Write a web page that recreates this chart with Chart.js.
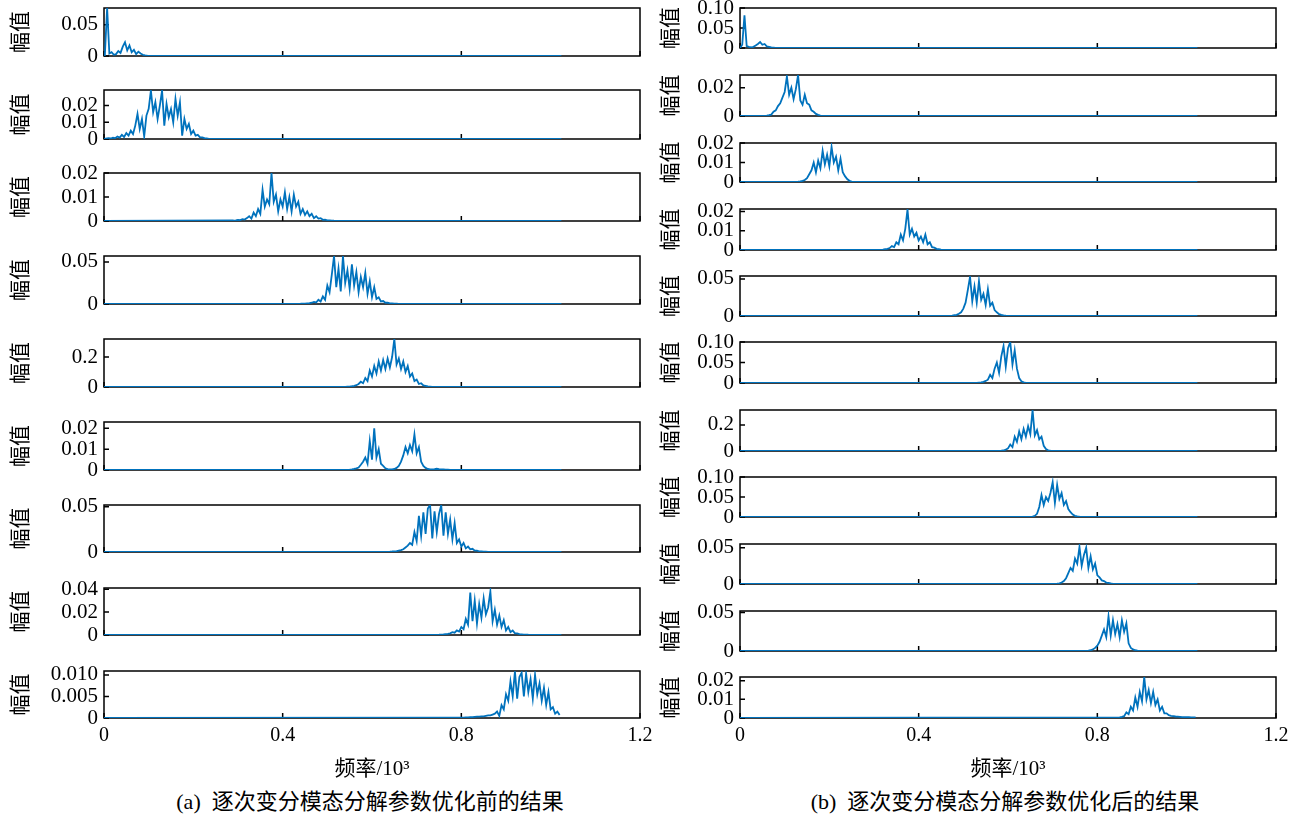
<!DOCTYPE html>
<html>
<head>
<meta charset="utf-8">
<script src="https://cdn.jsdelivr.net/npm/chart.js@4.4.1/dist/chart.umd.min.js"></script>
<style>
  body { margin: 0; width: 1302px; height: 816px; background: #fff; position: relative; overflow: hidden;
         font-family: "Liberation Serif", "Noto Sans CJK SC", serif; }
  canvas { position: absolute; }
  .cap { position: absolute; top: 789px; font-size: 22px; line-height: 26px; white-space: nowrap; transform: translateX(-50%); color: #000; }
</style>
</head>
<body>
<div class="cap" style="left:370px">(a)&nbsp;&nbsp;逐次变分模态分解参数优化前的结果</div>
<div class="cap" style="left:1005px">(b)&nbsp;&nbsp;逐次变分模态分解参数优化后的结果</div>
<script>
// frequency axis (x 10^3), spectra sampled every 0.005 from a start frequency
const STEP = 0.005;
const FREQ_END = 1.024;
const xTicks = [0, 0.4, 0.8, 1.2];
const xTickLabels = ["0", "0.4", "0.8", "1.2"];

// amplitudes in units of 1e-3
// (a) before optimisation
const aStarts = [0.002, 0.010, 0.290, 0.440, 0.540, 0.550, 0.640, 0.750, 0.800];
const a1 = [3,77,4,6,2,3,8,5,15,22,9,17,6,10,3,7,4,2,1,0.5,0.2];
const a2 = [0.5,0.3,0.8,0.5,1.5,0.8,2.5,1.2,3.5,2,5,3,8,15,6,12,1.5,14,18,29,16,22,12,20,29,8,21,13,18,10,24,14,22,2,12,6,9,3,5,2,2.5,1,1,0.5,0.3,0.1];
const a3 = [0.2,0.3,0.5,0.4,0.8,0.6,1.2,2,1,3.5,2,5,3,13,6,9,7,20,8,11,4,9,6,12,5,10,4,11,6,8,3,5,2.5,4,2,3,1.2,2,1,1.2,0.5,0.6,0.3,0.3,0.2,0.1,0.05];
const a4 = [0.3,0.5,0.4,0.8,1,1.5,2.5,1.8,5,3,9,5,22,14,35,57,20,42,15,57,25,40,18,47,22,38,14,32,20,37,12,27,8,20,6,8,3,3.5,1.5,1.5,0.8,0.6,0.4,0.3,0.2];
const a5 = [1,2,3,5,8,12,20,35,25,60,40,110,70,140,90,170,110,180,120,190,130,200,320,150,190,120,170,100,140,70,90,40,50,20,25,10,8,4,3,1.5,1];
const a6 = [0.2,0.3,0.5,0.8,1.2,2.5,4,6,3,14,5,20,6,10,3,2,0.8,0.4,0.3,0.3,0.5,1,2,4,7,11,8,12,9,17,8,11,4,2,1,0.5,0.3,0.3,0.4,0.6,0.4,0.3,0.3,0.2,0.2,0.1,0.1];
const a7 = [0.5,0.6,0.8,1,1.5,2,3,5,7,10,8,22,12,40,18,44,20,48,52,15,45,22,42,52,18,44,20,36,14,32,10,14,6,10,4,6,3,3.5,1.5,1.5,0.8,0.6,0.4,0.3,0.2];
const a8 = [0.3,0.4,0.5,0.8,1,1.5,2.5,2,4,3,7,5,14,9,37,12,30,10,27,15,32,18,24,38,12,22,9,17,7,13,4,7,2.5,4,1.5,1.5,0.8,0.6,0.4,0.3,0.2];
const a9 = [0.1,0.1,0.15,0.15,0.2,0.2,0.25,0.3,0.3,0.4,0.4,0.5,0.6,0.6,0.8,1,1.5,0.5,3,2,5.5,4,8.5,5,10.8,4.5,9.5,10.5,5,10.3,6,9,4.5,10,5.5,8,4,7,3,6,2,2.5,1,1.5,0.7];
const aMax = [0.077, 0.0293, 0.02, 0.057, 0.32, 0.023, 0.052, 0.041, 0.0109];
const aTicks = [[0,0.05],[0,0.01,0.02],[0,0.01,0.02],[0,0.05],[0,0.2],[0,0.01,0.02],[0,0.05],[0,0.02,0.04],[0,0.005,0.01]];
const aTickLabels = [["0","0.05"],["0","0.01","0.02"],["0","0.01","0.02"],["0","0.05"],["0","0.2"],["0","0.01","0.02"],["0","0.05"],["0","0.02","0.04"],["0","0.005","0.010"]];

// (b) after optimisation
const bStarts = [0.000, 0.060, 0.130, 0.320, 0.470, 0.530, 0.580, 0.650, 0.710, 0.780, 0.850];
const b1 = [0,8,82,5,3,1.5,3,6,10,15,8,10,4,3,1.5,1,0.5,0.2];
const b2 = [0.3,0.6,1,3,4,7,9,13,17,28,15,20,12,19,29,11,8,15,9,8,4,3,1.5,0.8,0.3,0.1];
const b3 = [0.2,0.3,0.6,1,2,4,6,10,5,11,7,16,9,14,8,18,10,13,6,12,5,3,1.5,0.6,0.2];
const b4 = [0.2,0.4,0.6,1,2,1.5,4,3,8,5,11,21,8,11,7,9,5,7,4,8,3,4,1.5,1.2,0.6,0.4,0.2,0.1,0.1];
const b5 = [0.3,0.5,1,1.5,3,5,10,18,35,53,20,40,18,47,22,30,15,36,14,18,8,5,2.5,1.5,0.8,0.4,0.2];
const b6 = [0.5,1,1.5,3,5,8,20,12,35,50,25,65,90,40,85,100,45,80,35,12,4,1.5,0.5,0.2];
const b7 = [1,2,4,10,20,50,30,110,70,150,90,170,110,190,130,315,120,160,90,110,40,15,5,2,1];
const b8 = [0.5,1,3,8,25,55,30,50,40,60,87,35,80,45,60,30,40,20,12,6,3,1.5,0.6,0.2];
const b9 = [0.5,1,2,4,8,15,22,18,35,28,51,25,40,50,22,38,20,28,12,9,5,4,2,1.5,0.8,0.3];
const b10 = [0.5,1,2,4,7,12,20,28,18,45,20,40,22,35,18,40,25,36,10,4,2,1,0.5,0.2];
const b11 = [0.3,0.6,1,3,2,6,4,11,6,14,9,22,10,15,8,14,7,10,4,6,2.5,2.5,1.5,1.2,1,0.8,0.7,0.6,0.5,0.5,0.4,0.4,0.3,0.3,0.3];
const bMax = [0.1, 0.029, 0.02, 0.0213, 0.054, 0.1, 0.315, 0.1, 0.055, 0.052, 0.022];
const bTicks = [[0,0.05,0.1],[0,0.02],[0,0.01,0.02],[0,0.01,0.02],[0,0.05],[0,0.05,0.1],[0,0.2],[0,0.05,0.1],[0,0.05],[0,0.05],[0,0.01,0.02]];
const bTickLabels = [["0","0.05","0.10"],["0","0.02"],["0","0.01","0.02"],["0","0.01","0.02"],["0","0.05"],["0","0.05","0.10"],["0","0.2"],["0","0.05","0.10"],["0","0.05"],["0","0.05"],["0","0.01","0.02"]];

// layout
const aBoxTop = [8, 90, 173, 256, 339, 422, 505, 588, 671];
const aBoxBottom = [56, 139, 221, 304, 387, 470, 552, 635, 718];
const bBoxTop = [8, 75, 143, 209, 276, 342, 410, 477, 544, 611, 677];
const bBoxBottom = [48, 116, 182, 250, 316, 383, 451, 517, 584, 651, 718];

const PAD = 12;
const LINE = '#0072BD';
const family = '"Liberation Serif", "Noto Sans CJK SC", serif';
const tickFont = { family, size: 21 };
const xFont = { family, size: 20 };
const titleFont = { family, size: 21 };

function toPoints(start, vals) {
  const pts = [{ x: 0, y: 0 }];
  vals.forEach((v, i) => pts.push({ x: +(start + i * STEP).toFixed(4), y: v / 1000 }));
  const last = start + (vals.length - 1) * STEP;
  if (last < FREQ_END - 0.005) pts.push({ x: FREQ_END, y: 0 });
  return pts;
}

const frame = {
  id: 'frame',
  beforeDatasetsDraw(chart) {
    const { ctx, chartArea: a, scales: { x, y } } = chart;
    ctx.save();
    ctx.strokeStyle = '#000';
    ctx.lineWidth = 1.5;
    ctx.strokeRect(a.left, a.top, a.right - a.left, a.bottom - a.top);
    ctx.beginPath();
    x.ticks.forEach(t => {
      const px = x.getPixelForValue(t.value);
      ctx.moveTo(px, a.bottom); ctx.lineTo(px, a.bottom - 5);
    });
    y.ticks.forEach(t => {
      const py = y.getPixelForValue(t.value);
      ctx.moveTo(a.left, py); ctx.lineTo(a.left + 5, py);
    });
    ctx.stroke();
    ctx.restore();
  }
};

function makePanel(p) {
  const cv = document.createElement('canvas');
  const h = PAD + (p.bottomY - p.topY) + (p.last ? 68 : PAD);
  cv.width = p.width; cv.height = h;
  cv.style.left = p.left + 'px';
  cv.style.top = (p.topY - PAD) + 'px';
  document.body.appendChild(cv);

  new Chart(cv, {
    type: 'line',
    data: { datasets: [{ data: p.points, borderColor: LINE, borderWidth: 1.8, pointRadius: 0, tension: 0 }] },
    options: {
      responsive: false,
      animation: false,
      events: [],
      layout: { autoPadding: false, padding: { top: PAD, right: p.padRight, bottom: p.last ? 4 : PAD, left: 0 } },
      plugins: { legend: { display: false }, tooltip: { enabled: false } },
      scales: {
        x: {
          type: 'linear', min: 0, max: 1.2,
          afterBuildTicks: s => { s.ticks = xTicks.map(v => ({ value: v })); },
          grid: { display: false, drawTicks: false },
          border: { display: false },
          ticks: { display: p.last, font: xFont, color: '#000', padding: 6, maxRotation: 0, autoSkip: false,
                   callback: (v, i) => xTickLabels[i] },
          title: { display: p.last, text: '频率/10³', font: titleFont, color: '#000', padding: 0 },
          afterFit: s => { s.height = p.last ? 64 : 0; s.paddingLeft = 0; s.paddingRight = 0; }
        },
        y: {
          min: 0, max: p.ymax,
          afterBuildTicks: s => { s.ticks = p.ticks.map(v => ({ value: v })); },
          grid: { display: false, drawTicks: false },
          border: { display: false },
          ticks: { font: tickFont, color: '#000', padding: 6, autoSkip: false, callback: (v, i) => p.labels[i] },
          title: { display: true, text: '幅值', font: titleFont, color: '#000', padding: { top: p.titlePad, bottom: 0 } },
          afterFit: s => { s.width = p.axisW; s.paddingTop = 0; s.paddingBottom = 0; }
        }
      }
    },
    plugins: [frame]
  });
}

const aSeries = [a1, a2, a3, a4, a5, a6, a7, a8, a9];
aSeries.forEach((vals, i) => makePanel({
  left: 0, width: 652, axisW: 104, padRight: 12, titlePad: 9,
  topY: aBoxTop[i], bottomY: aBoxBottom[i], last: i === aSeries.length - 1,
  points: toPoints(aStarts[i], vals), ymax: aMax[i], ticks: aTicks[i], labels: aTickLabels[i]
}));

const bSeries = [b1, b2, b3, b4, b5, b6, b7, b8, b9, b10, b11];
bSeries.forEach((vals, i) => makePanel({
  left: 652, width: 650, axisW: 88, padRight: 26, titlePad: 7,
  topY: bBoxTop[i], bottomY: bBoxBottom[i], last: i === bSeries.length - 1,
  points: toPoints(bStarts[i], vals), ymax: bMax[i], ticks: bTicks[i], labels: bTickLabels[i]
}));
</script>
</body>
</html>
